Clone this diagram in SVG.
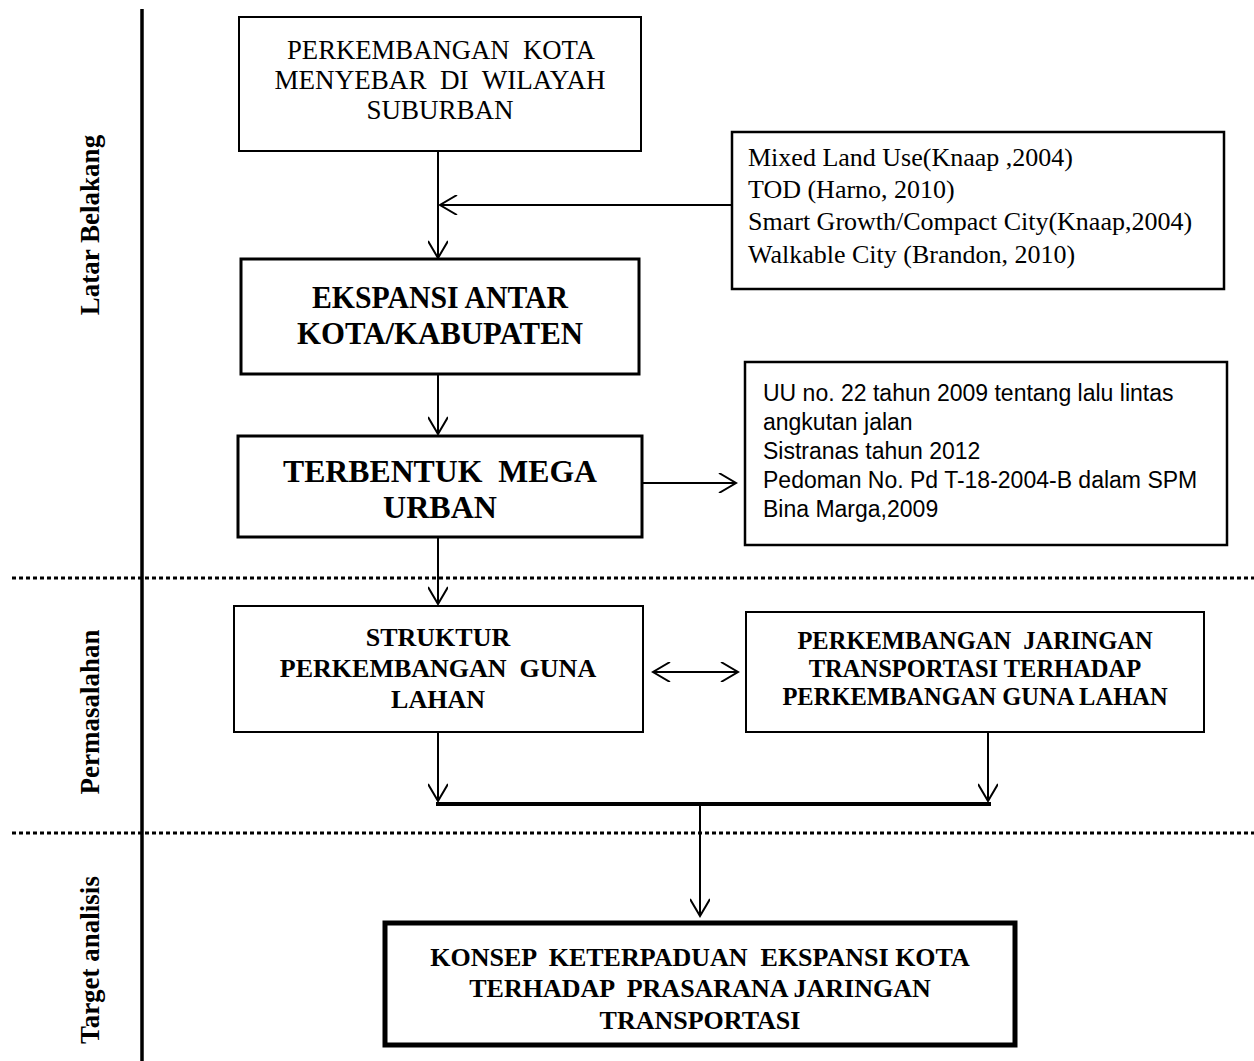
<svg xmlns="http://www.w3.org/2000/svg" width="1254" height="1061" viewBox="0 0 1254 1061">
<style>
.bx{fill:#fff;stroke:#000}
.ser{font-family:"Liberation Serif","Times New Roman",serif;fill:#000}
.b{font-weight:bold}
.san{font-family:"Liberation Sans",Arial,sans-serif;fill:#000}
.c{stroke:#000;stroke-width:2;fill:none}
.dot{stroke:#000;stroke-width:3;stroke-dasharray:4 3;fill:none}
</style>
<defs>
<marker id="ah" viewBox="0 0 20 20" refX="18" refY="10" markerWidth="20" markerHeight="20" markerUnits="userSpaceOnUse" orient="auto-start-reverse">
<path d="M1,0 L18,10 L1,20" fill="none" stroke="#000" stroke-width="2"/>
</marker>
</defs>
<rect width="1254" height="1061" fill="#fff"/>

<g id="sections">
<line x1="142" y1="9" x2="142" y2="1061" stroke="#000" stroke-width="3.5"/>
<line class="dot" x1="12" y1="578" x2="1254" y2="578"/>
<line class="dot" x1="12" y1="833" x2="1254" y2="833"/>
<text class="ser b" font-size="27" text-anchor="middle" transform="translate(99,225) rotate(-90)">Latar Belakang</text>
<text class="ser b" font-size="27" text-anchor="middle" transform="translate(99,712) rotate(-90)">Permasalahan</text>
<text class="ser b" font-size="27" text-anchor="middle" transform="translate(99,960) rotate(-90)">Target analisis</text>
</g>

<g id="connectors">
<line class="c" x1="438" y1="151" x2="438" y2="258" marker-end="url(#ah)"/>
<line class="c" x1="732" y1="205" x2="440" y2="205" marker-end="url(#ah)"/>
<line class="c" x1="438" y1="374" x2="438" y2="434" marker-end="url(#ah)"/>
<line class="c" x1="642" y1="483" x2="736" y2="483" marker-end="url(#ah)"/>
<line class="c" x1="438" y1="537" x2="438" y2="604" marker-end="url(#ah)"/>
<line class="c" x1="653" y1="672" x2="738" y2="672" marker-start="url(#ah)" marker-end="url(#ah)"/>
<line class="c" x1="438" y1="732" x2="438" y2="801" marker-end="url(#ah)"/>
<line class="c" x1="988" y1="732" x2="988" y2="801" marker-end="url(#ah)"/>
<line x1="436" y1="804" x2="991" y2="804" stroke="#000" stroke-width="4"/>
<line class="c" x1="700" y1="804" x2="700" y2="916" marker-end="url(#ah)"/>
</g>

<g id="n1">
<rect class="bx" x="239" y="17" width="402" height="134" stroke-width="2"/>
<text class="ser" font-size="27" text-anchor="middle" x="441" y="59" textLength="308" lengthAdjust="spacingAndGlyphs" xml:space="preserve">PERKEMBANGAN  KOTA</text>
<text class="ser" font-size="27" text-anchor="middle" x="440" y="89" textLength="331" lengthAdjust="spacingAndGlyphs" xml:space="preserve">MENYEBAR  DI  WILAYAH</text>
<text class="ser" font-size="27" text-anchor="middle" x="440" y="119">SUBURBAN</text>
</g>

<g id="nA">
<rect class="bx" x="732" y="132" width="492" height="157" stroke-width="2.5"/>
<text class="ser" font-size="26" x="748" y="166">Mixed Land Use(Knaap ,2004)</text>
<text class="ser" font-size="26" x="748" y="198">TOD (Harno, 2010)</text>
<text class="ser" font-size="26" x="748" y="230">Smart Growth/Compact City(Knaap,2004)</text>
<text class="ser" font-size="26" x="748" y="263">Walkable City (Brandon, 2010)</text>
</g>

<g id="n2">
<rect class="bx" x="241" y="259" width="398" height="115" stroke-width="3"/>
<text class="ser b" font-size="32" text-anchor="middle" x="440" y="308" textLength="256" lengthAdjust="spacingAndGlyphs">EKSPANSI ANTAR</text>
<text class="ser b" font-size="32" text-anchor="middle" x="440" y="344" textLength="286" lengthAdjust="spacingAndGlyphs">KOTA/KABUPATEN</text>
</g>

<g id="n3">
<rect class="bx" x="238" y="436" width="404" height="101" stroke-width="3"/>
<text class="ser b" font-size="32" text-anchor="middle" x="440" y="482" textLength="314" lengthAdjust="spacingAndGlyphs" xml:space="preserve">TERBENTUK  MEGA</text>
<text class="ser b" font-size="32" text-anchor="middle" x="440" y="518">URBAN</text>
</g>

<g id="nB">
<rect class="bx" x="745" y="362" width="482" height="183" stroke-width="2.5"/>
<text class="san" font-size="23" x="763" y="401">UU no. 22 tahun 2009 tentang lalu lintas</text>
<text class="san" font-size="23" x="763" y="430">angkutan jalan</text>
<text class="san" font-size="23" x="763" y="459">Sistranas tahun 2012</text>
<text class="san" font-size="23" x="763" y="488">Pedoman No. Pd T-18-2004-B dalam SPM</text>
<text class="san" font-size="23" x="763" y="517">Bina Marga,2009</text>
</g>

<g id="n4">
<rect class="bx" x="234" y="606" width="409" height="126" stroke-width="2"/>
<text class="ser b" font-size="26" text-anchor="middle" x="438" y="646">STRUKTUR</text>
<text class="ser b" font-size="26" text-anchor="middle" x="438" y="677" xml:space="preserve">PERKEMBANGAN  GUNA</text>
<text class="ser b" font-size="26" text-anchor="middle" x="438" y="708">LAHAN</text>
</g>

<g id="n5">
<rect class="bx" x="746" y="612" width="458" height="120" stroke-width="2"/>
<text class="ser b" font-size="24.5" text-anchor="middle" x="975" y="649" xml:space="preserve">PERKEMBANGAN  JARINGAN</text>
<text class="ser b" font-size="24.5" text-anchor="middle" x="975" y="677">TRANSPORTASI TERHADAP</text>
<text class="ser b" font-size="24.5" text-anchor="middle" x="975" y="705">PERKEMBANGAN GUNA LAHAN</text>
</g>

<g id="n6">
<rect class="bx" x="385" y="923" width="630" height="122" stroke-width="5"/>
<text class="ser b" font-size="26" text-anchor="middle" x="700" y="966" xml:space="preserve">KONSEP  KETERPADUAN  EKSPANSI KOTA</text>
<text class="ser b" font-size="26" text-anchor="middle" x="700" y="997" xml:space="preserve">TERHADAP  PRASARANA JARINGAN</text>
<text class="ser b" font-size="26" text-anchor="middle" x="700" y="1029">TRANSPORTASI</text>
</g>
</svg>
